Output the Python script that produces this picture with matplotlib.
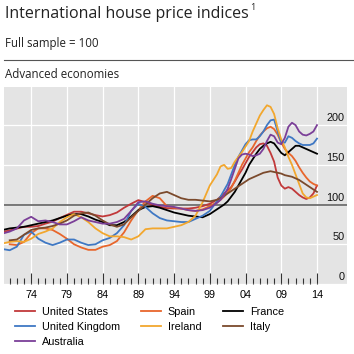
import numpy as np
import matplotlib
matplotlib.use("Agg")
import matplotlib.pyplot as plt
import matplotlib.transforms as mtransforms
from matplotlib.lines import Line2D

# ----------------------------------------------------------------------
# Data (index, full sample = 100), annual to 1999, half-yearly after
# ----------------------------------------------------------------------
YEARS = [
    1970, 1971, 1972, 1973, 1974, 1975, 1976, 1977, 1978, 1979,
    1980, 1981, 1982, 1983, 1984, 1985, 1986, 1987, 1988, 1989,
    1990, 1991, 1992, 1993, 1994, 1995, 1996, 1997, 1998, 1999,
    2000, 2000.5, 2001, 2001.5, 2002, 2002.5, 2003, 2003.5, 2004, 2004.5,
    2005, 2005.5, 2006, 2006.5, 2007, 2007.5, 2008, 2008.5, 2009, 2009.5,
    2010, 2010.5, 2011, 2011.5, 2012, 2012.5, 2013, 2013.5, 2014,
]

united_states = [
    65.6, 67.5, 69.8, 72, 72, 73, 76, 78.5, 83, 87,
    91, 91, 89, 86.7, 85, 86.7, 90, 96, 101, 105.6,
    103, 99, 97, 95.5, 95, 95, 95, 96, 98, 101,
    106, 110, 114, 118, 122, 129, 137, 144, 152, 160,
    166, 172, 176, 177, 174, 165, 154, 134, 124, 120,
    122, 120, 116, 112, 109, 107, 109, 114, 124,
]
spain = [
    np.nan, 50, 49, 53, 64, 70, 70, 68, 63, 57,
    50, 46, 43, 43, 47, 49, 54, 65, 80, 93,
    104, 111, 108, 98, 96, 95, 93, 92, 94, 98,
    103, 106, 110, 115, 121, 130, 140, 150, 158, 166,
    172, 180, 187, 192, 196, 198, 195, 188, 178, 170,
    165, 161, 155, 147, 140, 134, 129, 126, 124,
]
france = [
    68, 70, 71, 72, 74, 76, 78, 80, 83, 86,
    88, 88, 85, 81, 78, 74, 74, 78, 85, 93,
    97, 98, 96, 93, 90, 88, 86, 85, 84, 88,
    94, 97, 100, 104, 110, 116, 124, 132, 140, 150,
    157, 164, 170, 174, 177, 179, 177, 171, 165, 162,
    166, 170, 174, 174, 172, 170, 168, 166, 164,
]
united_kingdom = [
    44, 42.5, 47, 62, 66, 57, 52, 49, 52, 56,
    56, 52, 49, 50, 55, 58, 64, 74, 92, 101,
    97, 89, 83, 80, 79, 78, 78, 82, 86, 92,
    104, 110, 118, 126, 138, 150, 160, 168, 176, 181,
    182, 182, 186, 192, 200, 206, 207, 192, 178, 178,
    186, 184, 180, 177, 175, 175, 175, 177, 183,
]
ireland = [
    51, 53, 54, 53, 57, 63, 66, 70, 78, 84,
    88, 84, 78, 70, 64, 60, 60, 59, 56, 60,
    69, 70, 70, 70, 72, 74, 78, 86, 103, 124,
    138, 148, 150, 145, 146, 154, 160, 166, 173, 180,
    192, 202, 212, 219, 225, 223, 214, 196, 182, 172,
    160, 150, 138, 126, 114, 109, 108, 110, 112,
]
italy = [
    np.nan, 55, 56, 62, 68, 70, 71, 73, 76, 80,
    86, 89, 90, 86, 80, 75, 72, 75, 84, 92,
    100, 108, 114, 116, 112, 108, 106, 106, 105, 104,
    106, 108, 111, 114, 117, 120, 123, 126, 129, 132,
    134, 136, 138, 140, 141, 142, 141, 140, 139, 137,
    136, 135, 133, 131, 128, 125, 122, 119, 116,
]
australia = [
    63.5, 66, 70, 80, 84.6, 79, 80, 78, 75, 75,
    79, 84, 80, 78, 76, 76, 78, 82, 92, 103,
    104, 101, 99, 98, 97, 95, 93, 92, 93, 96,
    102, 106, 112, 120, 132, 145, 158, 163, 164, 163,
    161, 162, 164, 170, 180, 188, 186, 178, 176, 184,
    198, 203, 200, 192, 188, 187, 189, 192, 200,
]

SERIES = [
    ("United States", united_states, "#c1393a"),
    ("Spain", spain, "#e8662c"),
    ("France", france, "#000000"),
    ("United Kingdom", united_kingdom, "#3f78c4"),
    ("Ireland", ireland, "#f2a72e"),
    ("Italy", italy, "#7b4a2c"),
    ("Australia", australia, "#7b3f98"),
]

X_TICKS = [1974, 1979, 1984, 1989, 1994, 1999, 2004, 2009, 2014]
X_LABELS = ["74", "79", "84", "89", "94", "99", "04", "09", "14"]
Y_TICKS = [0, 50, 100, 150, 200]

TITLE_FONT = "Open Sans"
BODY_FONT = "Liberation Sans"

W = 354.0
fig = plt.figure(figsize=(3.54, 3.54), dpi=100)

# headings
title = fig.text(5 / W, 1 - 18 / W, "International house price indices",
                 fontsize=11.5, family=TITLE_FONT, va="baseline", color="#222222")
fig.text(5 / W, 1 - 47 / W, "Full sample = 100", fontsize=8.3,
         family=TITLE_FONT, va="baseline", color="#222222")
fig.add_artist(Line2D([4 / W, 1.0], [1 - 60 / W, 1 - 60 / W],
                      transform=fig.transFigure, color="#555555", linewidth=0.8))
fig.text(5 / W, 1 - 78 / W, "Advanced economies", fontsize=8.3,
         family=TITLE_FONT, va="baseline", color="#222222")

# superscript footnote mark right after the title
fig.canvas.draw()
bb = title.get_window_extent()
fig.text((bb.x1 + 1) / W, 1 - 10 / W, "1", fontsize=6.5,
         family=TITLE_FONT, va="baseline", color="#222222")

ax = fig.add_axes([4 / W, 1 - 284 / W, 343 / W, 197 / W])
ax.set_facecolor("#e4e4e4")
for s in ax.spines.values():
    s.set_visible(False)

ax.set_xlim(1970.2, 2018.2)
ax.set_ylim(0, 248)

ax.set_xticks(X_TICKS)
ax.set_xticklabels(X_LABELS, family=BODY_FONT, fontsize=7.8)
ax.set_xticks(range(1971, 2014), minor=True)
ax.tick_params(axis="x", which="major", direction="in", length=8,
               width=0.8, color="#333333", pad=4)
ax.tick_params(axis="x", which="minor", direction="in", length=4.5,
               width=0.8, color="#333333")

ax.set_yticks(Y_TICKS)
ax.set_yticklabels([])
ax.tick_params(axis="y", length=0)
ax.grid(True, which="major", color="white", linewidth=0.9)
ax.set_axisbelow(True)

ax.axhline(100, color="#6e6e6e", linewidth=1.3, zorder=1.5)

# y labels sit inside the panel, just above their grid line
lab_trans = mtransforms.offset_copy(ax.get_yaxis_transform(), fig=fig,
                                    x=0, y=5, units="points")
for v in Y_TICKS:
    ax.text(0.993, v, str(v), transform=lab_trans, ha="right", va="center",
            family=BODY_FONT, fontsize=7.8, color="#111111")

handles = {}
for name, values, colour in SERIES:
    (ln,) = ax.plot(YEARS, values, color=colour, linewidth=1.3,
                    label=name, zorder=2)
    handles[name] = ln

order = ["United States", "United Kingdom", "Australia",
         "Spain", "Ireland", "France", "Italy"]
fig.legend([handles[n] for n in order], order,
           loc="upper left", bbox_to_anchor=(15 / W, 1 - 307 / W),
           ncol=3, frameon=False, prop={"family": BODY_FONT, "size": 7.8},
           handlelength=1.8, handletextpad=0.65, columnspacing=2.0,
           labelspacing=0.46, borderpad=0, borderaxespad=0)

fig.savefig("out.png", dpi=100)
